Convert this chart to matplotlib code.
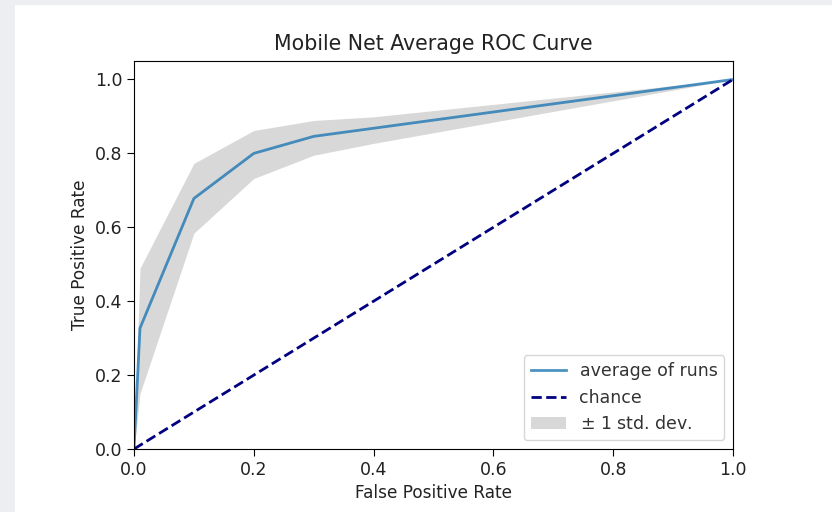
import numpy as np
import matplotlib
matplotlib.use('Agg')
import matplotlib.pyplot as plt
from matplotlib.patches import Rectangle

# averaged ROC points
fpr = [0.0, 0.01, 0.1, 0.2, 0.3, 0.4, 1.0]
mean_tpr = [0.0, 0.327, 0.678, 0.800, 0.846, 0.868, 1.0]
upper_tpr = [0.0, 0.489, 0.773, 0.862, 0.889, 0.899, 1.0]
lower_tpr = [0.0, 0.150, 0.584, 0.732, 0.795, 0.827, 1.0]
chance = [0.0, 1.0]

fig = plt.figure(figsize=(8.32, 5.12), dpi=100, facecolor='#eceef2')
# white panel the chart sits on
fig.patches.append(Rectangle((15 / 832, 0), 1, (512 - 5) / 512, transform=fig.transFigure,
                             facecolor='white', edgecolor='none', zorder=-1))

ax = fig.add_axes([134 / 832, 63 / 512, 599 / 832, 388 / 512])

ax.plot(fpr, mean_tpr, color='#1f77b4', lw=2, alpha=0.8, label='average of runs')
ax.plot(chance, chance, linestyle='--', lw=2, color='navy', label='chance')
ax.fill_between(fpr, lower_tpr, upper_tpr, color='grey', alpha=0.3, linewidth=0,
                label=r'$\pm$ 1 std. dev.')

ax.set_xlim(0, 1)
ax.set_ylim(0, 1.05)
ax.set_title('Mobile Net Average ROC Curve', fontsize=14.8, pad=8, color='#222222')
ax.set_xlabel('False Positive Rate', fontsize=12.2, color='#222222')
ax.set_ylabel('True Positive Rate', fontsize=12.2, color='#222222')
ax.tick_params(labelsize=12.5, length=5, labelcolor='#222222')
ax.legend(loc='lower right', fontsize=12.5, labelcolor='#333333')

fig.savefig('out.png', dpi=100, facecolor=fig.get_facecolor())
